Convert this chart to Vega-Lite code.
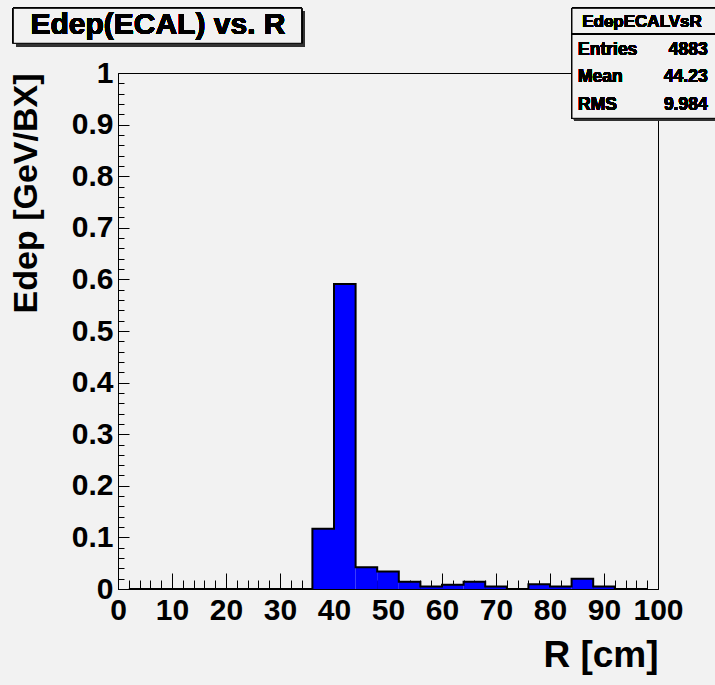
{
  "$schema": "https://vega.github.io/schema/vega-lite/v6.json",
  "width": 540,
  "height": 516,
  "autosize": "none",
  "padding": {"left": 118, "top": 73, "right": 57, "bottom": 96},
  "background": "#f2f2f2",
  "view": {"stroke": "#000000", "strokeWidth": 1, "fill": null},
  "config": {"font": "Liberation Sans"},
  "datasets": {
    "hist": [
      {"lo": 0, "hi": 4, "edep": 0},
      {"lo": 4, "hi": 8, "edep": 0},
      {"lo": 8, "hi": 12, "edep": 0},
      {"lo": 12, "hi": 16, "edep": 0},
      {"lo": 16, "hi": 20, "edep": 0},
      {"lo": 20, "hi": 24, "edep": 0},
      {"lo": 24, "hi": 28, "edep": 0},
      {"lo": 28, "hi": 32, "edep": 0},
      {"lo": 32, "hi": 36, "edep": 0},
      {"lo": 36, "hi": 40, "edep": 0.117},
      {"lo": 40, "hi": 44, "edep": 0.591},
      {"lo": 44, "hi": 48, "edep": 0.042},
      {"lo": 48, "hi": 52, "edep": 0.034},
      {"lo": 52, "hi": 56, "edep": 0.014},
      {"lo": 56, "hi": 60, "edep": 0.005},
      {"lo": 60, "hi": 64, "edep": 0.008},
      {"lo": 64, "hi": 68, "edep": 0.014},
      {"lo": 68, "hi": 72, "edep": 0.005},
      {"lo": 72, "hi": 76, "edep": 0},
      {"lo": 76, "hi": 80, "edep": 0.009},
      {"lo": 80, "hi": 84, "edep": 0.005},
      {"lo": 84, "hi": 88, "edep": 0.02},
      {"lo": 88, "hi": 92, "edep": 0.005},
      {"lo": 92, "hi": 96, "edep": 0},
      {"lo": 96, "hi": 100, "edep": 0}
    ]
  },
  "data": {"name": "hist"},
  "resolve": {"axis": {"x": "independent", "y": "independent"}},
  "layer": [
    {
      "mark": {"type": "rect", "fill": "#333333", "xOffset": 3, "x2Offset": 3, "yOffset": 3, "y2Offset": 3},
      "encoding": {
        "x": {"datum": -19.39, "type": "quantitative", "axis": null},
        "x2": {"datum": 34.0},
        "y": {"datum": 1.1254, "type": "quantitative", "axis": null},
        "y2": {"datum": 1.0576}
      }
    },
    {
      "mark": {"type": "rect", "fill": "#f2f2f2", "stroke": "#000000", "strokeWidth": 1},
      "encoding": {
        "x": {"datum": -19.39, "type": "quantitative", "axis": null},
        "x2": {"datum": 34.0},
        "y": {"datum": 1.1254, "type": "quantitative", "axis": null},
        "y2": {"datum": 1.0576}
      }
    },
    {
      "mark": {"type": "text", "text": "Edep(ECAL) vs. R", "align": "center", "baseline": "alphabetic", "font": "Liberation Sans", "fontSize": 30, "fontWeight": "bold", "color": "#000000"},
      "encoding": {
        "x": {"datum": 7.4, "type": "quantitative", "axis": null},
        "y": {"datum": 1.075, "type": "quantitative", "axis": null}
      }
    },
    {
      "mark": {"type": "rect", "fill": "#333333", "xOffset": 2, "x2Offset": 2, "yOffset": 2, "y2Offset": 2},
      "encoding": {
        "x": {"datum": 84.07, "type": "quantitative", "axis": null},
        "x2": {"datum": 112},
        "y": {"datum": 1.1254, "type": "quantitative", "axis": null},
        "y2": {"datum": 0.9122}
      }
    },
    {
      "mark": {"type": "rect", "fill": "#f2f2f2", "stroke": "#000000", "strokeWidth": 1},
      "encoding": {
        "x": {"datum": 84.07, "type": "quantitative", "axis": null},
        "x2": {"datum": 112},
        "y": {"datum": 1.1254, "type": "quantitative", "axis": null},
        "y2": {"datum": 0.9122}
      }
    },
    {
      "mark": {"type": "rule", "stroke": "#000000", "strokeWidth": 1},
      "encoding": {
        "x": {"datum": 84.07, "type": "quantitative", "axis": null},
        "x2": {"datum": 112},
        "y": {"datum": 1.0756, "type": "quantitative", "axis": null}
      }
    },
    {
      "mark": {"type": "text", "text": "EdepECALVsR", "align": "center", "baseline": "alphabetic", "font": "Liberation Sans", "fontSize": 17, "fontWeight": "bold", "color": "#000000"},
      "encoding": {
        "x": {"datum": 97.04, "type": "quantitative", "axis": null},
        "y": {"datum": 1.0897, "type": "quantitative", "axis": null}
      }
    },
    {
      "mark": {"type": "text", "text": ["Entries", "Mean", "RMS"], "lineHeight": 27.5, "align": "left", "baseline": "alphabetic", "font": "Liberation Sans", "fontSize": 17.5, "fontWeight": "bold", "color": "#000000"},
      "encoding": {
        "x": {"datum": 85.19, "type": "quantitative", "axis": null},
        "y": {"datum": 1.0349, "type": "quantitative", "axis": null}
      }
    },
    {
      "mark": {"type": "text", "text": ["4883", "44.23", "9.984"], "lineHeight": 27.5, "align": "right", "baseline": "alphabetic", "font": "Liberation Sans", "fontSize": 17.5, "fontWeight": "bold", "color": "#000000"},
      "encoding": {
        "x": {"datum": 109.2, "type": "quantitative", "axis": null},
        "y": {"datum": 1.0349, "type": "quantitative", "axis": null}
      }
    },
    {
      "mark": {"type": "rect", "fill": "#0000ff", "strokeWidth": 0},
      "encoding": {
        "x": {
          "field": "lo",
          "type": "quantitative",
          "scale": {"domain": [0, 100], "nice": false, "zero": false},
          "axis": {
            "orient": "bottom",
            "values": [0, 10, 20, 30, 40, 50, 60, 70, 80, 90, 100],
            "tickSize": -16,
            "tickColor": "#000000",
            "tickWidth": 1,
            "domainColor": "#000000",
            "domainWidth": 1,
            "grid": false,
            "labelFont": "Liberation Sans",
            "labelFontSize": 30,
            "labelFontWeight": "bold",
            "labelColor": "#000000",
            "labelPadding": 22,
            "labelBaseline": "top",
            "labelFlush": false,
            "labelOverlap": false,
            "title": "R [cm]",
            "titleFont": "Liberation Sans",
            "titleFontSize": 37,
            "titleFontWeight": "bold",
            "titleColor": "#000000",
            "titleAlign": "right",
            "titleBaseline": "alphabetic",
            "titleX": 540,
            "titleY": 77
          }
        },
        "x2": {"field": "hi"},
        "y": {
          "field": "edep",
          "type": "quantitative",
          "scale": {"domain": [0, 1], "nice": false},
          "axis": {
            "orient": "left",
            "values": [0, 0.1, 0.2, 0.3, 0.4, 0.5, 0.6, 0.7, 0.8, 0.9, 1],
            "tickSize": -11,
            "tickColor": "#000000",
            "tickWidth": 1,
            "domainColor": "#000000",
            "domainWidth": 1,
            "grid": false,
            "labelExpr": "format(datum.value, '.1~f')",
            "labelFont": "Liberation Sans",
            "labelFontSize": 30,
            "labelFontWeight": "bold",
            "labelColor": "#000000",
            "labelPadding": 16,
            "labelFlush": false,
            "labelOverlap": false,
            "title": "Edep [GeV/BX]",
            "titleFont": "Liberation Sans",
            "titleFontSize": 34,
            "titleFontWeight": "bold",
            "titleColor": "#000000",
            "titleAngle": 270,
            "titleAlign": "right",
            "titleBaseline": "alphabetic",
            "titleX": -82,
            "titleY": 0
          }
        },
        "y2": {"datum": 0}
      }
    },
    {
      "transform": [{"calculate": "(datum.lo + datum.hi) / 2", "as": "mid"}],
      "mark": {"type": "line", "interpolate": "step", "stroke": "#000000", "strokeWidth": 2},
      "encoding": {
        "x": {
          "field": "mid",
          "type": "quantitative",
          "axis": {
            "orient": "bottom",
            "values": [2,4,6,8,12,14,16,18,22,24,26,28,32,34,36,38,42,44,46,48,52,54,56,58,62,64,66,68,72,74,76,78,82,84,86,88,92,94,96,98],
            "tickSize": -9,
            "tickColor": "#000000",
            "tickWidth": 1,
            "domain": false,
            "labels": false,
            "grid": false,
            "title": null
          }
        },
        "y": {
          "field": "edep",
          "type": "quantitative",
          "axis": {
            "orient": "left",
            "values": [0.02,0.04,0.06,0.08,0.12,0.14,0.16,0.18,0.22,0.24,0.26,0.28,0.32,0.34,0.36,0.38,0.42,0.44,0.46,0.48,0.52,0.54,0.56,0.58,0.62,0.64,0.66,0.68,0.72,0.74,0.76,0.78,0.82,0.84,0.86,0.88,0.92,0.94,0.96,0.98],
            "tickSize": -6,
            "tickColor": "#000000",
            "tickWidth": 1,
            "domain": false,
            "labels": false,
            "grid": false,
            "title": null
          }
        }
      }
    }
  ]
}
